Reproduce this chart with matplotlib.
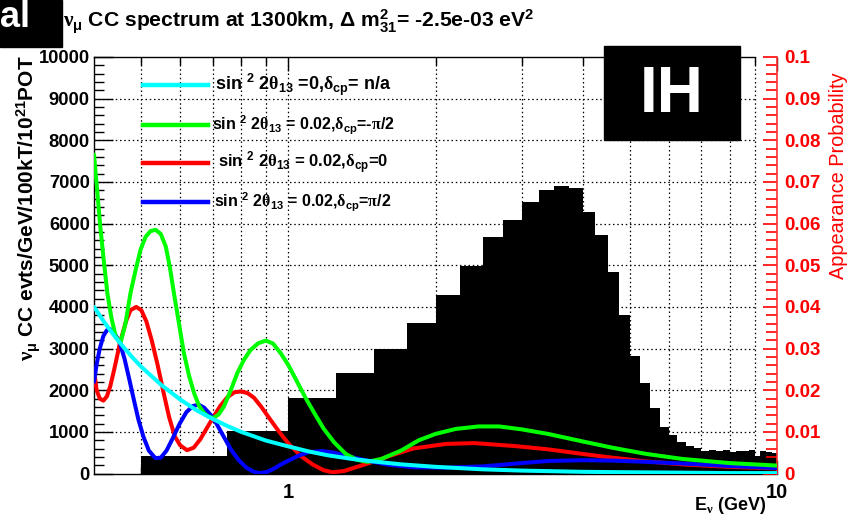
import numpy as np
import matplotlib
matplotlib.use("Agg")
import matplotlib.pyplot as plt
from matplotlib.patches import Rectangle
from matplotlib.lines import Line2D
from matplotlib.ticker import MultipleLocator, FixedLocator, NullFormatter, FuncFormatter

plt.rcParams["font.family"] = ["Liberation Sans", "DejaVu Sans"]
plt.rcParams["font.weight"] = "bold"
plt.rcParams["mathtext.fontset"] = "custom"
plt.rcParams["mathtext.rm"] = "Liberation Sans:bold"
plt.rcParams["mathtext.bf"] = "Liberation Sans:bold"
plt.rcParams["mathtext.it"] = "Liberation Serif"
plt.rcParams["mathtext.default"] = "rm"

# ---- numu CC event spectrum (events / GeV / 100 kT / 1e21 POT), 0.25 GeV bins ----
bin_edges = np.arange(0.25, 10.0001, 0.25)
cc_events = [0, 420, 1030, 1810, 2420, 3000, 3610, 4275, 4970, 5680,
             6080, 6520, 6815, 6895, 6845, 6280, 5735, 4840, 3810, 2825,
             2170, 1580, 1125, 925, 765, 660, 605, 535, 565, 530,
             560, 520, 540, 530, 555, 420, 550, 520, 490]

# ---- appearance probabilities ----
e_cyan = [0.40, 0.42, 0.44, 0.46, 0.48, 0.50, 0.55, 0.60, 0.65, 0.70, 0.75, 0.80,
          0.90, 1.00, 1.10, 1.20, 1.35, 1.49, 1.70, 2.00, 2.50, 3.00, 4.00, 5.00,
          6.50, 8.00, 10.0]
p_cyan = [0.0400, 0.0363, 0.0331, 0.0303, 0.0278, 0.0256, 0.0212, 0.0178, 0.0151,
          0.0131, 0.0114, 0.0100, 0.0079, 0.0065, 0.0053, 0.0044, 0.0035, 0.0029,
          0.0022, 0.0016, 0.0010, 0.0007, 0.0004, 0.0003, 0.0002, 0.0001, 0.0001]

e_green = [0.400, 0.406, 0.412, 0.419, 0.426, 0.434, 0.443, 0.453, 0.464, 0.475,
           0.487, 0.498, 0.510, 0.522, 0.535, 0.548, 0.561, 0.572, 0.583, 0.597,
           0.611, 0.626, 0.641, 0.656, 0.672, 0.687, 0.702, 0.720, 0.738, 0.762,
           0.786, 0.811, 0.837, 0.868, 0.899, 0.930, 0.964, 1.00, 1.04, 1.08,
           1.13, 1.18, 1.24, 1.31, 1.38, 1.45, 1.55, 1.70, 1.85, 2.00, 2.20,
           2.45, 2.70, 3.00, 3.40, 4.00, 4.60, 5.40, 6.40, 8.00, 10.0]
p_green = [0.0766, 0.0680, 0.0593, 0.0510, 0.0433, 0.0375, 0.0329, 0.0313, 0.0360,
           0.0433, 0.0490, 0.0537, 0.0568, 0.0582, 0.0585, 0.0575, 0.0545, 0.0495,
           0.0433, 0.0360, 0.0289, 0.0235, 0.0193, 0.0163, 0.0145, 0.0136, 0.0133,
           0.0142, 0.0161, 0.0200, 0.0241, 0.0273, 0.0297, 0.0313, 0.0319, 0.0312,
           0.0289, 0.0260, 0.0222, 0.0185, 0.0145, 0.0108, 0.0075, 0.0047, 0.0033,
           0.0028, 0.0035, 0.0055, 0.0080, 0.0095, 0.0107, 0.0113, 0.0113, 0.0106,
           0.0095, 0.0077, 0.0062, 0.0047, 0.0035, 0.0025, 0.0019]

e_red = [0.400, 0.405, 0.411, 0.418, 0.425, 0.432, 0.440, 0.452, 0.465, 0.475,
         0.488, 0.500, 0.512, 0.525, 0.540, 0.555, 0.570, 0.585, 0.600, 0.620,
         0.640, 0.660, 0.680, 0.700, 0.725, 0.750, 0.775, 0.800, 0.825, 0.850,
         0.880, 0.920, 0.960, 1.00, 1.06, 1.12, 1.18, 1.23, 1.30, 1.40, 1.49,
         1.60, 1.80, 2.10, 2.40, 2.90, 3.40, 4.00, 4.60, 5.40, 6.40, 8.00, 10.0]
p_red = [0.0250, 0.0200, 0.0180, 0.0175, 0.0185, 0.0210, 0.0250, 0.0313, 0.0365,
         0.0392, 0.0400, 0.0392, 0.0365, 0.0320, 0.0260, 0.0195, 0.0135, 0.0090,
         0.0068, 0.0056, 0.0062, 0.0082, 0.0108, 0.0133, 0.0162, 0.0183, 0.0195,
         0.0197, 0.0193, 0.0182, 0.0160, 0.0128, 0.0098, 0.0072, 0.0042, 0.0022,
         0.0008, 0.0003, 0.0006, 0.0018, 0.0028, 0.0041, 0.0060, 0.0071, 0.0073,
         0.0066, 0.0058, 0.0047, 0.0038, 0.0029, 0.0022, 0.0016, 0.0012]

e_blue = [0.400, 0.405, 0.411, 0.418, 0.425, 0.431, 0.438, 0.445, 0.452, 0.462,
          0.472, 0.482, 0.493, 0.505, 0.518, 0.534, 0.548, 0.563, 0.580, 0.598,
          0.618, 0.637, 0.656, 0.672, 0.688, 0.702, 0.720, 0.740, 0.762, 0.790,
          0.820, 0.850, 0.877, 0.905, 0.935, 0.970, 1.00, 1.05, 1.10, 1.17, 1.24,
          1.32, 1.40, 1.49, 1.60, 1.80, 2.10, 2.50, 3.00, 3.40, 4.00, 4.60, 5.40,
          6.40, 8.00, 10.0]
p_blue = [0.0220, 0.0262, 0.0300, 0.0330, 0.0344, 0.0347, 0.0340, 0.0328, 0.0313,
          0.0275, 0.0228, 0.0180, 0.0130, 0.0088, 0.0055, 0.0037, 0.0038, 0.0055,
          0.0085, 0.0118, 0.0147, 0.0162, 0.0165, 0.0158, 0.0145, 0.0133, 0.0110,
          0.0085, 0.0058, 0.0033, 0.0014, 0.0004, 0.0001, 0.0004, 0.0012, 0.0023,
          0.0031, 0.0043, 0.0051, 0.0054, 0.0050, 0.0042, 0.0035, 0.0028, 0.0021,
          0.0015, 0.0014, 0.0017, 0.0025, 0.0030, 0.0032, 0.0031, 0.0028, 0.0024,
          0.0018, 0.0013]

legend_labels = [
    r"sin $^{2}$ 2$\mathit{\theta}_{13}$ =0,$\mathit{\delta}_{cp}$= n/a",
    r"sin $^{2}$ 2$\mathit{\theta}_{13}$ = 0.02,$\mathit{\delta}_{cp}$=-$\mathit{\pi}$/2",
    r"sin $^{2}$ 2$\mathit{\theta}_{13}$ = 0.02,$\mathit{\delta}_{cp}$=0",
    r"sin $^{2}$ 2$\mathit{\theta}_{13}$ = 0.02,$\mathit{\delta}_{cp}$=$\mathit{\pi}$/2",
]
curve_colors = ["#00ffff", "#00ff00", "#ff0000", "#0000ff"]

W, H = 856, 517
fig = plt.figure(figsize=(W / 100, H / 100), dpi=100)


def fx(px):
    return px / W


def fy(py):
    return 1 - py / H


x0, x1, y0, y1 = 94, 777, 473.5, 57
ax = fig.add_axes([fx(x0), fy(y0), (x1 - x0) / W, (y0 - y1) / H])
ax.set_xscale("log")
ax.set_xlim(0.4, 10)
ax.set_ylim(0, 10000)

# dotted grid (horizontal lines stop at 9 GeV)
dot = (0, (1.2, 2.2))
for v in [0.5, 0.6, 0.7, 0.8, 0.9, 1, 2, 3, 4, 5, 6, 7, 8, 9]:
    ax.plot([v, v], [0, 10000], color="black", lw=0.9, ls=dot, zorder=1)
for h in range(1000, 10000, 1000):
    ax.plot([0.4, 9], [h, h], color="black", lw=0.9, ls=dot, zorder=1)

ax.stairs(cc_events, bin_edges, fill=True, color="black", zorder=2)

for s in ["top", "right"]:
    ax.spines[s].set_visible(False)
ax.plot([0.4, 9], [10000, 10000], color="black", lw=1.0, clip_on=False, zorder=3)
ax.spines["left"].set_linewidth(1.0)
ax.spines["bottom"].set_linewidth(1.0)

ax.yaxis.set_major_locator(MultipleLocator(1000))
ax.yaxis.set_minor_locator(MultipleLocator(200))
ax.tick_params(axis="y", which="major", direction="in", length=14, width=1,
               labelsize=13.2, pad=3, right=False)
ax.tick_params(axis="y", which="minor", direction="in", length=7, width=1, right=False)
ax.xaxis.set_major_locator(FixedLocator([1, 10]))
ax.xaxis.set_minor_locator(FixedLocator([0.5, 0.6, 0.7, 0.8, 0.9, 2, 3, 4, 5, 6, 7, 8, 9]))
ax.xaxis.set_minor_formatter(NullFormatter())
ax.xaxis.set_major_formatter(FuncFormatter(lambda v, p: "%d" % round(v)))
ax.tick_params(axis="x", which="major", direction="in", length=10, width=1,
               labelsize=14.5, pad=7, top=True)
ax.tick_params(axis="x", which="minor", direction="in", length=6, width=1, top=True)
for lab in ax.get_yticklabels() + ax.get_xticklabels():
    lab.set_fontweight("bold")

# right-hand probability axis
ax2 = ax.twinx()
ax2.set_ylim(0, 0.1)
for s in ["top", "left", "bottom"]:
    ax2.spines[s].set_visible(False)
ax2.spines["right"].set_color("#ff3030")
ax2.spines["right"].set_linewidth(1.2)
ax2.yaxis.set_major_locator(MultipleLocator(0.01))
ax2.yaxis.set_minor_locator(MultipleLocator(0.002))
ax2.yaxis.set_major_formatter(FuncFormatter(lambda v, p: "0" if abs(v) < 1e-9 else "%g" % round(v, 3)))
ax2.tick_params(axis="y", which="major", direction="in", length=10, width=1.2,
                colors="#ff0000", labelsize=13.5, pad=5)
ax2.tick_params(axis="y", which="minor", direction="in", length=8, width=1.2, colors="#ff0000")
for lab in ax2.get_yticklabels():
    lab.set_fontweight("bold")

for e, p, c in [(e_red, p_red, curve_colors[2]), (e_blue, p_blue, curve_colors[3]),
                (e_green, p_green, curve_colors[1]), (e_cyan, p_cyan, curve_colors[0])]:
    ax2.plot(e, p, color=c, lw=2.9, solid_joinstyle="round", solid_capstyle="round", zorder=3)

# legend
rows_y = [85, 125, 163, 202]
sizes = [13.0, 11.5, 12.0, 11.5]
for yy, c, lab, fs in zip(rows_y, curve_colors, legend_labels, sizes):
    fig.add_artist(Line2D([fx(143), fx(208)], [fy(yy), fy(yy)], color=c, lw=3.2))
    fig.text(fx(303), fy(yy), lab, ha="center", va="center", fontsize=fs, fontweight="bold")

# axis titles
fig.text(fx(28.5), fy(55), r"$\mathit{\nu}_{\mu}$ CC evts/GeV/100kT/10$^{21}$POT",
         rotation=90, ha="center", va="top", fontsize=15, fontweight="bold")
fig.text(fx(838), fy(72), "Appearance Probability", rotation=90, ha="center", va="top",
         fontsize=14.3, fontweight="normal", color="#ff0000")
fig.text(fx(766), fy(510), r"E$_{\mathit{\nu}}$ (GeV)", ha="right", va="baseline",
         fontsize=13, fontweight="bold")

# title
fig.text(fx(63), fy(28),
         r"$\mathit{\nu}_{\mu}$ CC spectrum at 1300km, $\Delta$ m$^{2}_{31}$= -2.5e-03 eV$^{2}$",
         ha="left", va="baseline", fontsize=15.2, fontweight="bold")

# panel tag and hierarchy box
fig.add_artist(Rectangle((0, fy(47)), fx(62), 47 / H, color="black", transform=fig.transFigure))
fig.text(fx(0), fy(27), "al", ha="left", va="baseline", fontsize=26, fontweight="bold", color="white")
fig.add_artist(Rectangle((fx(604), fy(140)), 136 / W, 94 / H, color="black", transform=fig.transFigure))
fig.text(fx(672), fy(95), "IH", ha="center", va="center", fontsize=46, fontweight="bold", color="white")

fig.savefig("out.png", dpi=100)
